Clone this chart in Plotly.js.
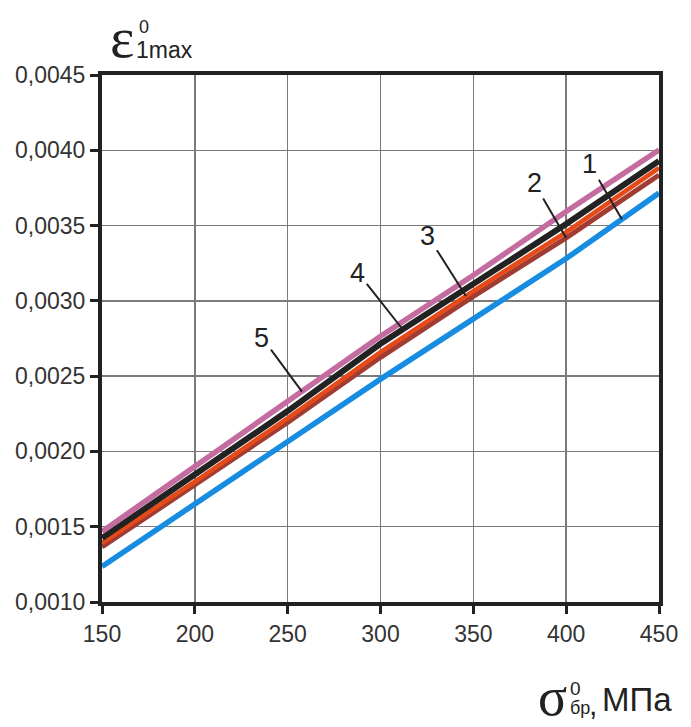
<!DOCTYPE html>
<html>
<head>
<meta charset="utf-8">
<script src="https://cdn.plot.ly/plotly-3.0.1.min.js"></script>
<style>
  html, body { margin: 0; padding: 0; background: #fff; }
  #chart { width: 691px; height: 727px; }
</style>
</head>
<body>
<div id="chart"></div>
<script>
// Ultimate stress σ⁰бр, MPa
const sigma = [150, 200, 250, 300, 350, 400, 450];

// Maximum strain ε⁰1max for curves 1–5
const curve1 = [0.001236, 0.001651, 0.002069, 0.002480, 0.002880, 0.003281, 0.003716];
const curve2 = [0.001365, 0.001774, 0.002192, 0.002625, 0.003030, 0.003418, 0.003836];
const curve3 = [0.001392, 0.001800, 0.002219, 0.002660, 0.003065, 0.003457, 0.003883];
const curve4 = [0.001425, 0.001850, 0.002268, 0.002715, 0.003110, 0.003510, 0.003929];
const curve5 = [0.001468, 0.001900, 0.002331, 0.002765, 0.003170, 0.003593, 0.004002];

const yTicks = [0.0010, 0.0015, 0.0020, 0.0025, 0.0030, 0.0035, 0.0040, 0.0045];
const xTicks = [150, 200, 250, 300, 350, 400, 450];

const colors = {
  '1': '#168de0',
  '2': '#a03c32',
  '3': '#e64a19',
  '4': '#222222',
  '5': '#c46ca0'
};
const widths = { '1': 5.5, '2': 5, '3': 4.5, '4': 6, '5': 5.5 };
const series = { '1': curve1, '2': curve2, '3': curve3, '4': curve4, '5': curve5 };

// drawing order: blue underneath, then brown, orange, black, pink
const order = ['1', '2', '3', '4', '5'];
const traces = order.map(k => ({
  x: sigma,
  y: series[k],
  type: 'scatter',
  mode: 'lines',
  name: k,
  line: { color: colors[k], width: widths[k] },
  hoverinfo: 'skip'
}));

// point on a curve for a given σ (used to anchor the number leaders)
function valueAt(xs, ys, x) {
  for (let i = 0; i < xs.length - 1; i++) {
    if (x >= xs[i] && x <= xs[i + 1]) {
      const t = (x - xs[i]) / (xs[i + 1] - xs[i]);
      return ys[i] + t * (ys[i + 1] - ys[i]);
    }
  }
  return ys[ys.length - 1];
}

// where each leader touches its curve and where its number sits (px offset)
const leaders = [
  { k: '1', x: 430, ax: -32, ay: -55 },
  { k: '2', x: 400, ax: -32, ay: -55 },
  { k: '3', x: 346, ax: -38, ay: -60 },
  { k: '4', x: 312, ax: -45, ay: -57 },
  { k: '5', x: 257.7, ax: -40, ay: -54 }
];

const numFont = { family: 'Liberation Sans, Arial, sans-serif', size: 27, color: '#222' };
const annotations = leaders.map(l => ({
  x: l.x,
  y: valueAt(sigma, series[l.k], l.x),
  xref: 'x', yref: 'y',
  text: l.k,
  showarrow: true,
  arrowhead: 0,
  arrowwidth: 2,
  arrowcolor: '#222',
  standoff: 0,
  ax: l.ax, ay: l.ay,
  font: numFont
}));

// axis titles built from separate pieces (symbol, superscript, subscript)
const serif = 'Liberation Serif, Times New Roman, serif';
const sans = 'Liberation Sans, Arial, sans-serif';
function paperX(px) { return (px - 102) / 557; }
function paperY(py) { return (602 - py) / 527; }
const titleParts = [
  { text: 'ε', px: 122, py: 38, size: 58, family: serif, anchor: 'center' },
  { text: '0', px: 138, py: 27, size: 18, family: sans, anchor: 'left' },
  { text: '1max', px: 135, py: 50, size: 23, family: sans, anchor: 'left' },
  { text: 'σ', px: 552, py: 697, size: 54, family: serif, anchor: 'center' },
  { text: '0', px: 569, py: 688, size: 19, family: sans, anchor: 'left' },
  { text: 'бр', px: 569, py: 708, size: 18, family: sans, anchor: 'left' },
  { text: ',', px: 588, py: 704, size: 30, family: sans, anchor: 'left' },
  { text: 'МПа', px: 601, py: 699, size: 33, family: sans, anchor: 'left' }
];
titleParts.forEach(p => annotations.push({
  x: paperX(p.px), y: paperY(p.py),
  xref: 'paper', yref: 'paper',
  xanchor: p.anchor, yanchor: 'middle',
  text: p.text,
  showarrow: false,
  borderpad: 0,
  font: { family: p.family, size: p.size, color: '#222' }
}));

const axisCommon = {
  showline: true,
  linecolor: '#222',
  linewidth: 4,
  mirror: true,
  showgrid: true,
  gridcolor: '#7a7a7a',
  gridwidth: 1.5,
  ticks: 'outside',
  ticklen: 8,
  tickwidth: 3,
  tickcolor: '#222',
  zeroline: false,
  tickfont: { family: sans, size: 23, color: '#333' }
};

const layout = {
  width: 691,
  height: 727,
  margin: { l: 102, r: 32, t: 75, b: 125 },
  paper_bgcolor: '#fff',
  plot_bgcolor: '#fff',
  showlegend: false,
  separators: ', ',
  xaxis: Object.assign({}, axisCommon, {
    range: [150, 450],
    tickvals: xTicks,
    ticktext: xTicks.map(String)
  }),
  yaxis: Object.assign({}, axisCommon, {
    range: [0.0010, 0.0045],
    tickvals: yTicks,
    tickformat: '.4f'
  }),
  annotations: annotations
};

Plotly.newPlot('chart', traces, layout, { staticPlot: true, displayModeBar: false });
</script>
</body>
</html>
